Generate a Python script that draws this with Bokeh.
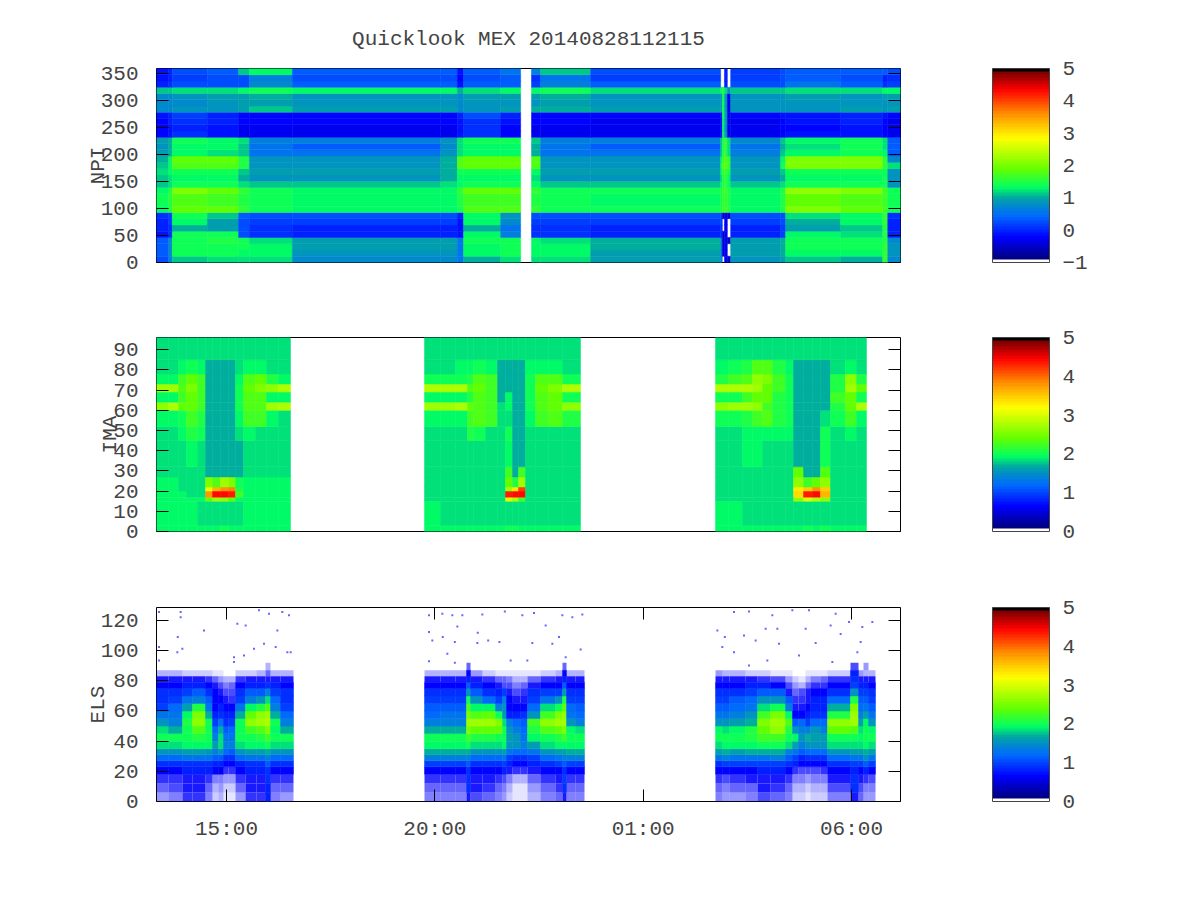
import numpy as np
from bokeh.embed import file_html
from bokeh.resources import INLINE
from bokeh.plotting import figure
from bokeh.layouts import column
from bokeh.models import (ColumnDataSource, LinearColorMapper, ColorBar, FixedTicker, LinearAxis)

TITLE = "Quicklook MEX 20140828112115"
TIME_TICKS = [15, 20, 25, 30]
TIME_LABELS = {15: "15:00", 20: "20:00", 25: "01:00", 30: "06:00"}
X_RANGE = (13.32, 31.176)

# colour scale: fraction of range, r, g, b
PAL_F = [0.016, 0.02, 0.13, 0.24, 0.33, 0.385, 0.48, 0.64, 0.74, 0.89, 0.975]
PAL_R = [0, 0, 0, 0, 0, 0, 100, 255, 255, 255, 130]
PAL_G = [0, 0, 0, 105, 165, 255, 255, 255, 170, 0, 0]
PAL_B = [130, 130, 255, 255, 165, 100, 0, 0, 0, 0, 0]

# NPI: log flux x10, one list per time segment, bottom row first
NPI_T = [13.32,13.61,13.70,14.54,15.29,15.55,16.58,20.14,20.54,20.69,21.58,22.06,22.32,22.54,23.74,26.86,26.90,26.95,27.02,27.10,28.30,28.42,29.74,30.75,30.87,31.176]
W = None
NPI_COLS = [
 [3,4,4,4,-1,0,0,1,13,14,14,13,11,11,12,11,10,9,8,9,-2,-2,-2,-1,7,7,7,11,0,-1,-1],
 [6,7,7,7,1,1,2,2,15,15,16,15,12,12,13,13,13,10,10,10,-1,-1,0,0,7,7,7,11,1,0,0],
 [11,14,14,14,14,10,13,14,19,18,18,20,14,13,14,18,19,13,13,14,1,0,1,2,8,7,8,12,3,2,3],
 [12,14,14,15,14,9,9,11,19,17,17,19,14,13,14,18,19,12,13,13,-1,-1,0,0,8,8,9,12,3,3,4],
 [12,13,14,14,3,3,3,4,16,15,15,16,12,10,11,15,15,11,11,12,-3,-3,-2,-2,9,9,9,13,3,3,11],
 [12,13,13,12,1,1,2,3,14,14,14,14,11,8,9,8,8,5,5,6,-3,-3,-2,-2,11,9,10,14,7,6,13],
 [7,8,9,9,0,0,2,3,13,13,13,13,11,8,9,8,8,5,4,6,-3,-3,-2,-2,9,8,8,13,4,3,4],
 [7,8,9,9,0,0,2,3,13,13,13,13,12,10,10,10,10,8,7,8,-3,-3,-2,-2,9,8,8,13,4,3,4],
 [5,5,5,5,-1,-1,-1,0,14,15,15,16,13,13,14,18,18,12,12,12,-1,-1,-1,0,7,7,7,10,-1,-2,-1],
 [10,13,13,14,13,10,13,13,18,17,17,19,14,13,14,19,19,13,13,14,1,1,1,3,8,8,9,12,4,3,4],
 [12,14,14,14,6,5,7,8,18,17,17,19,14,13,14,19,19,13,13,14,-2,-2,-1,0,9,8,9,13,4,4,5],
 [W]*31,
 [12,13,13,13,1,1,2,3,16,15,15,16,13,12,13,18,18,10,10,11,-3,-3,-2,-2,10,8,9,13,2,1,6],
 [12,13,13,12,1,1,2,3,14,14,14,14,11,8,9,8,8,5,5,6,-3,-3,-2,-2,10,9,10,14,6,5,11],
 [9,9,10,10,0,0,2,3,14,13,13,14,11,8,9,8,8,5,4,6,-3,-3,-3,-2,9,8,8,12,4,2,3],
 [6,6,6,6,1,1,2,2,15,15,15,15,13,12,13,14,13,11,11,11,-2,-2,-2,-1,8,8,8,13,W,W,W],
 [W,-5,-5,-5,-5,W,W,-5,16,16,16,16,15,15,16,18,17,15,15,15,13,13,13,14,14,14,14,15,W,W,W],
 [-3,-3,-3,-3,-3,-3,-3,-3,17,16,16,17,16,16,17,19,18,16,16,16,9,8,9,9,9,9,9,12,0,0,0],
 [-5,W,W,-5,W,W,W,-5,15,15,15,15,13,13,14,16,16,12,12,12,-3,-3,-3,-3,-3,-3,-2,8,W,W,W],
 [8,9,9,9,0,0,2,3,13,13,13,13,11,8,9,8,8,6,5,7,-3,-3,-3,-2,8,8,8,11,3,2,2],
 [9,10,10,10,2,2,3,3,15,15,15,15,12,10,11,14,13,11,10,11,-2,-2,-2,-1,8,8,8,11,3,3,3],
 [11,13,14,14,13,9,10,12,20,19,19,21,14,13,14,20,20,13,12,13,-1,-2,-1,-1,8,8,9,12,5,4,4],
 [10,13,14,14,12,11,13,13,19,18,18,20,14,13,14,20,20,14,14,14,-1,-1,0,0,9,8,8,12,4,3,4],
 [16,16,16,15,15,15,16,16,17,17,17,17,14,14,14,16,16,13,12,12,-2,-2,-2,-1,8,8,9,13,1,0,4],
 [7,8,8,7,0,0,0,1,14,14,14,14,8,8,8,12,7,4,4,4,-3,-3,-3,-2,9,8,9,13,2,1,3],
]

# IMA: rows bottom first, one table per pass
IMA_Y = [0,3,15,17,20,22,27,32,45,52,60,64,69,73,78,85,96]
IMA_T1 = [13.32,13.608,13.848,14.04,14.304,14.496,14.664,14.856,15.048,15.216,15.408,15.696,15.96,16.248,16.536]
IMA_1 = [
 [19,19,19,19,19,19,19,20,19,19,19,19,19,19],
 [19,19,19,19,18,18,18,18,18,18,19,19,19,19],
 [19,19,19,19,19,24,27,26,24,19,19,19,19,19],
 [19,19,19,18,18,38,44,44,43,22,19,19,19,19],
 [19,19,18,18,18,31,36,38,39,21,19,19,19,19],
 [19,19,18,18,18,25,23,27,25,20,19,19,19,19],
 [18,18,18,18,18,17,17,17,17,17,18,18,18,18],
 [18,18,18,19,18,17,17,17,17,17,18,18,18,18],
 [18,18,19,21,20,17,17,17,17,18,19,18,18,18],
 [19,19,20,22,21,17,17,17,17,19,22,22,19,18],
 [26,28,24,24,22,17,17,17,17,20,23,23,27,28],
 [19,19,22,24,22,17,17,17,17,20,23,23,19,19],
 [27,27,23,25,22,17,17,17,17,20,24,25,26,28],
 [19,19,22,24,22,17,17,17,17,19,23,24,21,19],
 [18,18,19,20,19,17,17,17,17,18,19,19,18,18],
 [18,18,18,18,18,18,18,18,18,18,18,18,18,18],
]
IMA_T2 = [19.752,20.136,20.496,20.784,20.928,21.216,21.504,21.696,21.864,22.008,22.176,22.416,22.728,23.064,23.496]
IMA_2 = [
 [19,19,19,19,19,19,19,20,20,19,19,19,19,19],
 [19,18,18,18,18,18,18,18,18,18,18,18,18,18],
 [18,18,18,18,18,18,18,30,28,22,18,18,18,18],
 [18,18,18,18,18,18,18,43,44,44,18,18,18,18],
 [18,18,18,18,18,18,18,27,33,42,18,18,18,18],
 [18,18,18,18,18,18,18,24,21,27,18,18,18,18],
 [18,18,18,18,18,18,18,22,17,22,18,18,18,18],
 [18,18,18,18,18,18,18,19,17,17,18,18,18,18],
 [18,18,18,21,20,18,18,20,17,17,18,18,18,18],
 [19,19,19,22,23,22,18,18,17,17,19,22,23,21],
 [27,27,28,24,23,22,18,19,17,17,20,23,24,26],
 [19,19,19,21,23,22,17,19,17,17,20,23,24,20],
 [28,28,28,23,24,22,17,17,17,17,20,24,25,28],
 [20,20,20,21,23,22,17,17,17,17,20,23,23,20],
 [18,18,19,19,20,19,17,17,17,17,19,19,19,18],
 [18,18,18,18,18,18,18,18,18,18,18,18,18,18],
]
IMA_T3 = [26.736,27.048,27.384,27.624,27.864,28.104,28.416,28.608,28.848,29.064,29.256,29.496,29.856,30.12,30.36]
IMA_3 = [
 [19,19,19,19,19,19,19,19,20,19,20,19,19,19],
 [19,19,18,18,18,18,18,18,18,18,18,18,18,18],
 [18,18,18,18,18,18,18,26,30,28,26,18,18,18],
 [18,18,18,18,18,18,18,34,43,44,36,18,18,18],
 [18,18,18,18,18,18,18,33,35,38,35,18,18,18],
 [18,18,18,18,18,18,18,26,22,24,26,18,18,18],
 [18,18,18,18,18,18,18,24,17,17,23,18,18,18],
 [18,18,19,19,18,18,18,17,17,17,20,18,18,18],
 [18,18,19,19,19,19,19,17,17,17,20,18,19,18],
 [20,20,21,22,23,21,20,17,17,17,18,20,22,19],
 [26,27,27,26,22,21,20,17,17,17,17,21,24,28],
 [20,20,22,24,24,21,20,17,17,17,17,22,24,20],
 [28,28,28,27,24,22,20,17,17,17,17,21,27,24],
 [21,22,23,26,25,22,20,17,17,17,17,21,26,21],
 [19,20,21,23,23,21,19,17,17,17,17,18,19,18],
 [18,18,18,18,18,18,18,18,18,18,18,18,18,18],
]

# ELS: rows bottom first; positive = log flux x10, negative = speckle density x10
ELS_Y = [0,6,12,18,23,27,31,35,40,45,50,55,60,65,70,75,79,83,87,92]
ELS_T1 = [13.32,13.608,13.944,14.184,14.496,14.664,14.808,14.928,15.048,15.216,15.456,15.72,15.936,16.056,16.296,16.608]
ELS_1 = [
 [-4,-5,-8,-8,-5,-2,-3,-1,-1,-4,-8,-8,8,-5,-4],
 [-6,-7,-9,-9,-6,-3,-4,-2,-2,-6,-9,-9,8,-6,-6],
 [-8,-8,-9,-9,-8,-5,-5,-4,-4,-8,-9,-9,9,-8,-8],
 [7,7,8,8,8,7,6,-8,-8,7,8,8,9,7,7],
 [9,9,9,9,9,8,8,7,7,8,9,9,11,9,9],
 [12,12,13,13,13,11,11,9,9,12,13,13,14,12,12],
 [15,15,16,16,15,14,15,12,11,15,16,16,17,15,15],
 [18,18,19,19,19,16,18,14,14,18,19,19,20,18,18],
 [20,20,20,21,20,14,18,13,13,20,20,21,22,20,20],
 [18,17,20,23,20,12,17,11,12,20,22,23,25,19,17],
 [15,14,21,26,20,10,13,9,10,20,26,27,28,20,14],
 [13,13,19,25,17,8,9,8,8,17,24,26,27,17,12],
 [10,12,16,21,13,7,8,7,7,13,19,21,23,14,10],
 [9,10,13,14,11,7,7,-9,-8,10,14,15,18,12,9],
 [9,9,10,11,9,7,-9,-7,-7,9,11,11,14,10,9],
 [7,7,8,8,7,-9,-7,-5,-6,7,8,8,9,8,7],
 [-9,-9,-9,-9,-8,-6,-4,-3,-3,-8,-9,-9,-9,-9,-9],
 [-3,-3,-2,-2,-2,-1,-1,0,0,-2,-2,-3,-6,-3,-3],
 [0,0,0,0,0,0,0,0,0,0,0,0,-3,0,0],
]
ELS_T2 = [19.752,20.136,20.496,20.76,20.856,21.144,21.456,21.624,21.72,21.864,22.056,22.224,22.536,22.896,23.064,23.16,23.376,23.592]
ELS_2 = [
 [-5,-5,-5,-9,-7,-6,-5,-4,-2,-1,-1,-3,-5,-6,-9,-5,-5],
 [-6,-6,-6,9,-9,-8,-6,-5,-3,-1,-1,-4,-6,-8,9,-6,-6],
 [-8,-8,-8,9,-9,-9,-8,-7,-5,-3,-3,-6,-8,-9,10,-8,-8],
 [7,7,7,9,7,7,7,8,-9,-8,-8,-9,7,7,9,7,7],
 [10,10,10,11,9,9,9,10,8,7,7,8,9,10,11,10,10],
 [14,14,14,14,12,12,12,13,10,9,9,10,12,13,14,14,14],
 [17,17,17,17,15,15,15,16,13,12,12,13,15,16,16,17,17],
 [19,19,19,20,18,18,18,19,15,15,14,16,18,19,19,19,19],
 [20,20,20,22,21,21,20,20,16,15,13,19,20,21,22,20,20],
 [17,17,17,25,24,24,24,20,15,14,12,21,23,24,25,19,18],
 [14,14,14,27,27,27,25,18,14,12,11,22,26,27,27,15,14],
 [12,13,13,25,23,24,20,15,8,8,9,15,22,25,26,13,12],
 [11,11,11,23,19,19,14,15,7,7,7,12,18,20,24,12,11],
 [10,10,10,20,15,12,10,14,7,-9,-9,10,13,15,21,10,10],
 [9,9,9,15,11,9,8,10,-9,-7,-8,9,10,10,16,9,9],
 [7,7,7,11,8,7,-9,-7,-7,-5,-6,-9,7,7,11,7,7],
 [-9,-9,-9,8,-9,-8,-6,-6,-5,-3,-3,-6,-8,-9,8,-9,-9],
 [-3,-3,-3,7,-4,-2,-1,-1,-1,-1,-1,-1,-2,-3,7,-3,-3],
 [0,0,0,-6,0,0,0,0,0,0,0,0,0,0,-6,0,0],
]
ELS_T3 = [26.736,26.904,27.072,27.456,27.744,28.056,28.416,28.584,28.728,28.896,29.016,29.256,29.424,29.976,30.168,30.288,30.408,30.576]
ELS_3 = [
 [-5,-4,-4,-5,-7,-6,-5,-2,-2,-1,-2,-2,-5,-9,-6,-4,-4],
 [-6,-5,-6,-6,-9,-8,-6,-3,-3,-2,-3,-3,-7,9,-7,-5,-5],
 [-8,-7,-8,-9,-9,-9,-8,-5,-5,-4,-5,-5,-9,9,-9,-8,-7],
 [7,7,7,7,8,8,7,-8,-7,-7,-7,-8,7,8,7,8,7],
 [9,10,10,10,10,10,9,8,7,7,7,7,9,10,10,11,10],
 [13,14,13,13,13,14,11,10,8,9,9,9,12,13,13,15,13],
 [16,17,16,17,17,17,14,13,11,12,12,12,15,16,16,17,16],
 [18,19,19,19,20,20,18,16,14,15,15,15,18,18,18,19,18],
 [20,20,20,21,22,22,20,19,15,17,16,16,20,20,19,20,20],
 [19,18,19,21,24,26,21,15,14,14,15,14,24,23,18,20,19],
 [15,15,16,17,25,27,23,11,12,10,12,12,26,27,16,19,15],
 [13,13,14,15,22,25,19,7,7,8,9,9,21,27,14,16,13],
 [11,11,12,13,18,20,14,-9,-9,7,8,8,17,25,12,13,11],
 [10,10,11,12,15,15,11,-8,-8,-9,8,8,12,21,11,11,10],
 [9,9,9,10,11,11,-9,-6,-7,-9,7,7,9,15,10,10,9],
 [7,7,7,8,8,7,-7,-4,-3,-6,-8,-8,7,10,8,8,7],
 [-9,-9,-9,-9,-8,-7,-4,-2,-1,-3,-5,-6,-8,9,-9,-9,-9],
 [-4,-3,-3,-2,-2,-1,-1,0,0,-1,-1,-1,-2,8,-4,-3,-3],
 [0,0,0,0,0,0,0,0,0,0,0,0,0,-7,0,-4,0],
]
# isolated ELS counts above the main band
DOT_T = [13.38,13.90,13.90,13.38,13.83,14.46,15.78,15.26,15.46,16.02,16.34,16.50,16.22,15.90,15.66,15.42,15.18,13.94,13.82,16.54,16.46,13.38,15.18,16.18,
 19.86,20.18,20.42,20.66,21.14,21.68,22.10,22.38,23.06,23.30,23.54,19.86,20.54,21.03,19.94,20.19,20.48,21.02,21.28,21.55,22.34,22.66,22.98,22.82,23.50,20.30,19.86,20.48,21.82,22.22,23.14,
 27.18,27.54,28.10,28.58,28.98,29.62,29.94,30.26,30.50,26.78,26.96,27.42,27.94,28.22,28.90,29.50,29.74,30.22,26.90,27.18,27.70,28.26,28.74,29.14,30.14,27.54,27.98,29.54]
DOT_E = [125.6,125.6,122.2,102.4,109,113.4,126.7,117.8,116.7,124.5,125.6,123.4,113.4,104.6,101.3,96.8,92.4,101.3,99,99,99,93.5,95.7,102.4,
 123.4,124.5,123.4,123.4,124,126,123.4,125,123.4,122.2,124,112.3,116,111.9,106.8,109,105.7,105,106.8,105.7,105,116.7,109,104.6,100.8,98,92.9,92,93.5,93.5,95.7,
 125.6,126,123.4,126.7,126.7,124.5,119,115.6,119,113.4,109,110,114.5,114.5,114.5,116.7,111,105.7,102.4,99,106.8,104.6,96.8,105,99,90.2,93.5,92.4]

PAL_LEVELS = 64
def palette():
    out = []
    for i in range(PAL_LEVELS):
        f = (i + 0.5) / PAL_LEVELS
        if f < PAL_F[0]:
            out.append("#ffffff")
        elif f > 0.98:
            out.append("#000000")
        else:
            r, g, b = (int(np.interp(f, PAL_F, c)) for c in (PAL_R, PAL_G, PAL_B))
            out.append(f"#{r:02x}{g:02x}{b:02x}")
    return out
PALETTE = palette()
FONT = "Liberation Mono"
TXT = "#444444"
FS = "21px"

def cells(xe, ye, rows):
    d = dict(l=[], r=[], b=[], t=[], v=[])
    s = dict(l=[], r=[], b=[], t=[], a=[])
    els = ye is ELS_Y
    for j, row in enumerate(rows):
        for i, v in enumerate(row):
            if v is None or (els and v == 0):
                continue
            if els and v < 0:
                s["l"].append(xe[i]); s["r"].append(xe[i+1]); s["b"].append(ye[j]); s["t"].append(ye[j+1]); s["a"].append(-v/10)
            else:
                d["l"].append(xe[i]); d["r"].append(xe[i+1]); d["b"].append(ye[j]); d["t"].append(ye[j+1]); d["v"].append(v/10)
    return d, s

def mirror(ticks):
    return LinearAxis(ticker=FixedTicker(ticks=ticks), axis_line_color=None, major_tick_in=12, major_tick_out=0,
                      minor_tick_line_color=None, major_label_overrides={t: "" for t in ticks}, major_label_standoff=0)

def panel(name, ylim, yticks, low, cticks, top, bottom, label_off, with_x=False):
    p = figure(frame_width=744, frame_height=194, x_range=X_RANGE, y_range=ylim,
               output_backend="svg", toolbar_location=None, min_border_left=156,
               min_border_top=top, min_border_bottom=bottom, min_border_right=200)
    p.grid.visible = False
    p.outline_line_color = "black"
    p.background_fill_color = "white"
    ya = p.yaxis[0]
    ya.ticker = FixedTicker(ticks=yticks)
    ya.axis_line_color = None
    ya.major_tick_in = 12; ya.major_tick_out = 0; ya.minor_tick_line_color = None
    ya.major_tick_line_color = "black"
    ya.major_label_standoff = 18
    ya.major_label_text_font = FONT; ya.major_label_text_font_size = FS; ya.major_label_text_color = TXT
    ya.axis_label = name
    ya.axis_label_standoff = label_off
    ya.axis_label_text_font = FONT; ya.axis_label_text_font_size = FS; ya.axis_label_text_color = TXT
    ya.axis_label_text_font_style = "normal"
    p.add_layout(mirror(yticks), "right")
    xa = p.xaxis[0]
    if with_x:
        xa.ticker = FixedTicker(ticks=TIME_TICKS)
        xa.major_label_overrides = TIME_LABELS
        xa.axis_line_color = None
        xa.major_tick_in = 12; xa.major_tick_out = 0; xa.minor_tick_line_color = None
        xa.major_label_standoff = 16
        xa.major_label_text_font = FONT; xa.major_label_text_font_size = FS; xa.major_label_text_color = TXT
        p.add_layout(mirror(TIME_TICKS), "above")
    else:
        xa.visible = False
    mapper = LinearColorMapper(palette=PALETTE, low=low, high=5)
    cb = ColorBar(color_mapper=mapper, width=57, height=194, padding=0, margin=0, location=(92, 0),
                  ticker=FixedTicker(ticks=cticks), major_tick_line_color=None, minor_tick_line_color=None,
                  bar_line_color="#444444", label_standoff=13,
                  major_label_text_font=FONT, major_label_text_font_size=FS, major_label_text_color=TXT)
    p.add_layout(cb, "right")
    return p, mapper

def draw(p, mapper, xe, ye, rows):
    d, s = cells(xe, ye, rows)
    c = {"field": "v", "transform": mapper}
    p.quad(left="l", right="r", bottom="b", top="t", source=ColumnDataSource(d), fill_color=c, line_color=c, line_width=0.5)
    if s["l"]:
        p.quad(left="l", right="r", bottom="b", top="t", source=ColumnDataSource(s), fill_color="#0000ff",
               fill_alpha="a", line_color=None)

p1, m1 = panel("NPI", (0, 360), list(range(0, 351, 50)), -1, [-1, 0, 1, 2, 3, 4, 5], 68, 37, -12)
npi_rows = [[col[k] for col in NPI_COLS] for k in range(31)]
npi_y = [360 * k / 31 for k in range(32)]
draw(p1, m1, NPI_T, npi_y, npi_rows)
p1.title.text = TITLE
p1.title.align = "center"
p1.title.text_font = FONT; p1.title.text_font_size = FS; p1.title.text_color = TXT
p1.title.text_font_style = "normal"
p1.title.standoff = 35

p2, m2 = panel("IMA", (0, 96), list(range(0, 91, 10)), 0, [0, 1, 2, 3, 4, 5], 38, 38, -12)
for t, m in ((IMA_T1, IMA_1), (IMA_T2, IMA_2), (IMA_T3, IMA_3)):
    draw(p2, m2, t, IMA_Y, m)

p3, m3 = panel("ELS", (0, 128.6), list(range(0, 121, 20)), 0, [0, 1, 2, 3, 4, 5], 38, 60, -12, with_x=True)
for t, m in ((ELS_T1, ELS_1), (ELS_T2, ELS_2), (ELS_T3, ELS_3)):
    draw(p3, m3, t, ELS_Y, m)
p3.scatter(DOT_T, DOT_E, marker="square", size=2, color="#0000ff", alpha=0.6, line_color=None)

layout = column(p1, p2, p3, spacing=0)
open("out.html", "w").write(file_html(layout, INLINE))
